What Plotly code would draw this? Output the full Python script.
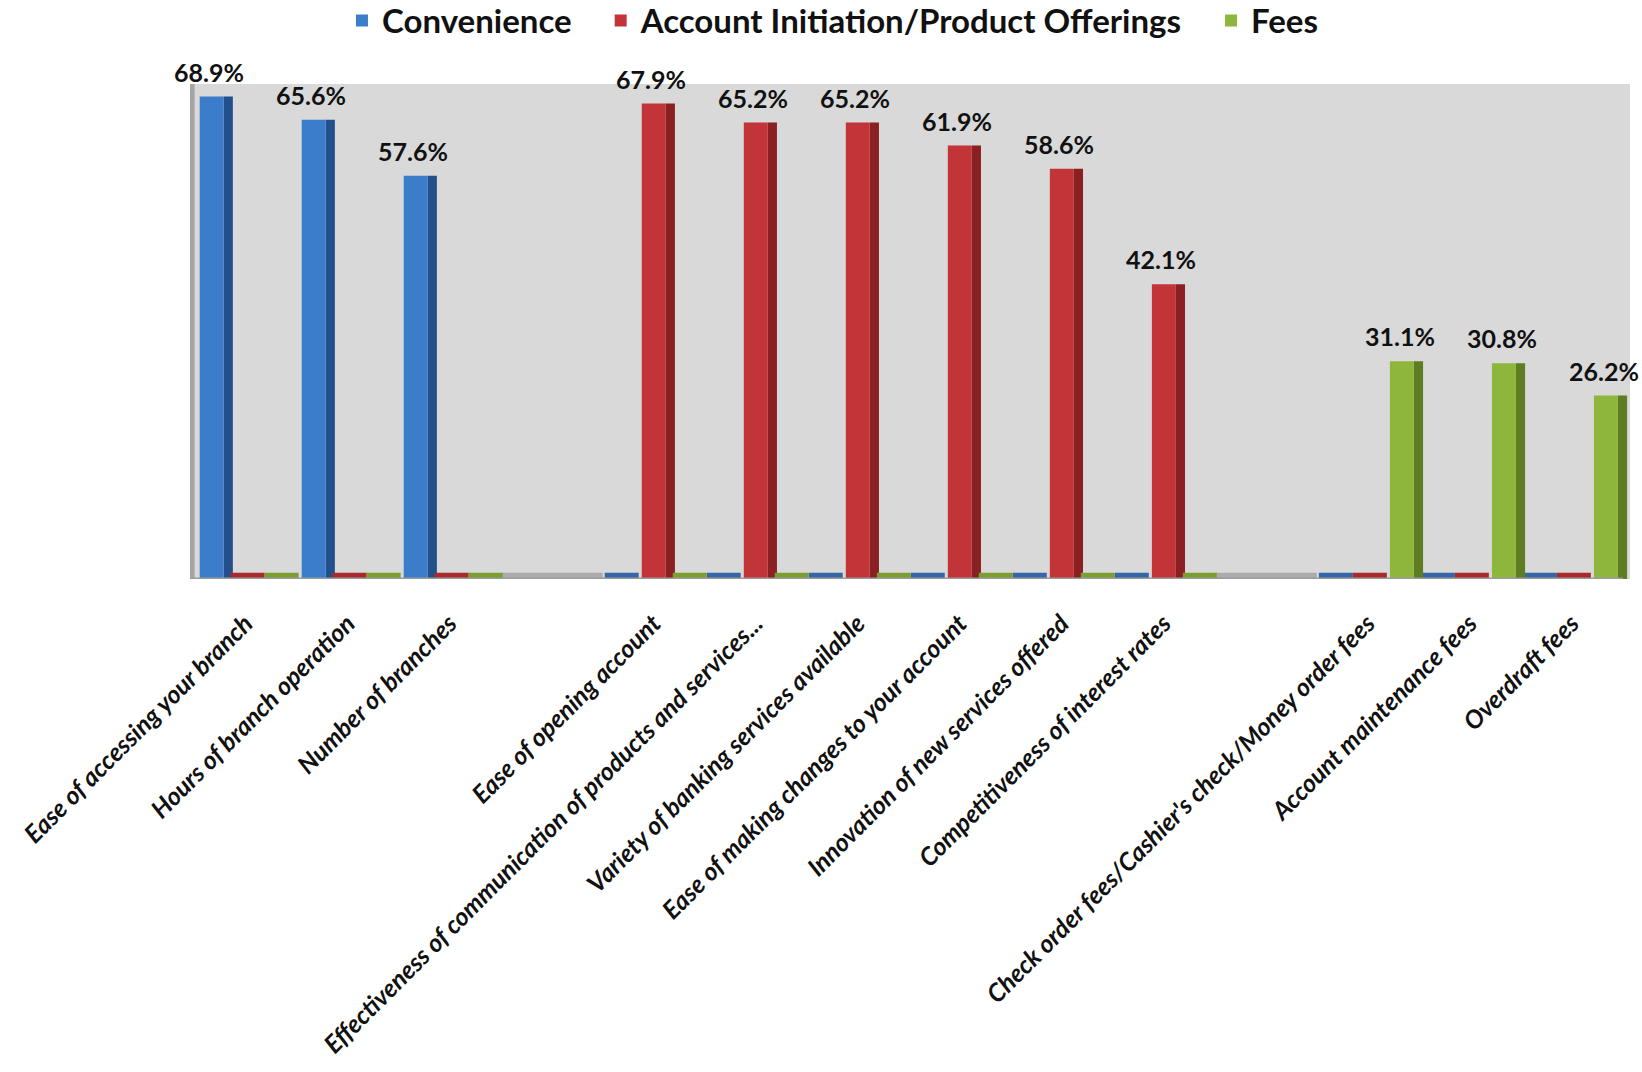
import plotly.graph_objects as go

# Survey attributes, grouped by factor; empty strings are spacer columns between groups
categories = [
    "Ease of accessing your branch",
    "Hours of branch operation",
    "Number of branches",
    "",
    "Ease of opening account",
    "Effectiveness of communication of products and services...",
    "Variety of banking services available",
    "Ease of making changes to your account",
    "Innovation of new services offered",
    "Competitiveness of interest rates",
    " ",
    "Check order fees/Cashier's check/Money order fees",
    "Account maintenance fees",
    "Overdraft fees",
]

# Percent of respondents per factor (0 where the attribute belongs to another factor,
# None for the spacer columns)
convenience = [68.9, 65.6, 57.6, None, 0, 0, 0, 0, 0, 0, None, 0, 0, 0]
account_init = [0, 0, 0, None, 67.9, 65.2, 65.2, 61.9, 58.6, 42.1, None, 0, 0, 0]
fees = [0, 0, 0, None, 0, 0, 0, 0, 0, 0, None, 31.1, 30.8, 26.2]

series_names = ["Convenience", "Account Initiation/Product Offerings", "Fees"]
series_values = [convenience, account_init, fees]

front_colors = ["#3B7CCB", "#C23437", "#8FB63C"]
side_colors = ["#23508C", "#8A2022", "#5E7D22"]
flat_colors = ["#3466A8", "#A9292C", "#7C9E30"]
floor_grey = "#ABABAB"

FLOOR = 0.9          # thickness of the floor strip, in data units
SLOT = 1 / 3         # each column is split into three series slots
FRONT_W = 0.235
SIDE_W = 0.09
FRONT_PAD = 0.05
LEGEND_GAP = "\u00a0\u00a0\u00a0"   # extra room after each legend entry

x_idx = list(range(len(categories)))
fig = go.Figure()

# Floor strip under the spacer columns
blank_x = [i for i, v in enumerate(convenience) if v is None]
fig.add_trace(go.Bar(
    x=blank_x, y=[FLOOR] * len(blank_x), width=1.0, offset=-0.5,
    marker=dict(color=floor_grey, line=dict(width=0)),
    showlegend=False, hoverinfo="skip",
))

for k, (name, vals) in enumerate(zip(series_names, series_values)):
    slot_start = -0.5 + k * SLOT
    # flat tiles where this series has no value
    zx = [i for i, v in enumerate(vals) if v == 0]
    fig.add_trace(go.Bar(
        x=zx, y=[FLOOR] * len(zx), width=SLOT, offset=slot_start + 0.02,
        marker=dict(color=flat_colors[k], line=dict(width=0)),
        showlegend=False, hoverinfo="skip",
    ))
    vx = [i for i, v in enumerate(vals) if v]
    vy = [vals[i] for i in vx]
    # darker side face
    fig.add_trace(go.Bar(
        x=vx, y=vy, width=SIDE_W, offset=slot_start + FRONT_PAD + FRONT_W,
        marker=dict(color=side_colors[k], line=dict(width=0)),
        showlegend=False, hoverinfo="skip",
    ))
    # front face
    legend_name = name + (LEGEND_GAP if k < len(series_names) - 1 else "")
    fig.add_trace(go.Bar(
        x=vx, y=vy, width=FRONT_W, offset=slot_start + FRONT_PAD,
        name=legend_name,
        marker=dict(color=front_colors[k], line=dict(width=0)),
        hovertemplate="%{y:.1f}%<extra>" + name + "</extra>",
    ))
    # value labels
    for i, v in zip(vx, vy):
        fig.add_annotation(
            x=i + slot_start + FRONT_PAD + FRONT_W * 0.4, y=v,
            xref="x", yref="y", text=f"{v:.1f}%", showarrow=False,
            yanchor="bottom", yshift=8,
            font=dict(family="Lato", size=25, color="#111111", weight="bold"),
        )

# Left wall of the plot box and the floor edge
fig.add_shape(type="rect", xref="x", yref="y", x0=-0.545, x1=-0.5, y0=0, y1=70.7,
              fillcolor="#A4A4A4", line=dict(width=0), layer="below")
fig.add_shape(type="line", xref="x", yref="y", x0=-0.545, x1=13.5, y0=0, y1=0,
              line=dict(color="#9C9C9C", width=3), layer="above")

fig.update_layout(
    width=1642, height=1072,
    barmode="overlay",
    paper_bgcolor="white",
    plot_bgcolor="#D9D9D9",
    margin=dict(l=190, r=12, t=84, b=493, autoexpand=False),
    font=dict(family="Lato", color="#111111"),
    legend=dict(
        orientation="h", xref="paper", yref="paper",
        x=0.4465, xanchor="center", y=1.128, yanchor="middle",
        font=dict(family="Lato", size=33, color="#111111", weight="bold"),
        itemwidth=30, bgcolor="rgba(0,0,0,0)",
    ),
    xaxis=dict(
        range=[-0.545, 13.57], automargin=False,
        tickmode="array", tickvals=x_idx, ticktext=categories,
        tickangle=-45, showgrid=False, zeroline=False, showline=False,
        ticks="", ticklabelstandoff=24,
        tickfont=dict(family="Lato", size=25, color="#111111",
                      weight="bold", style="italic"),
    ),
    yaxis=dict(range=[0, 70.7], showgrid=False, zeroline=False, automargin=False,
               showticklabels=False, showline=False, ticks=""),
)

fig.write_html("out.html")
